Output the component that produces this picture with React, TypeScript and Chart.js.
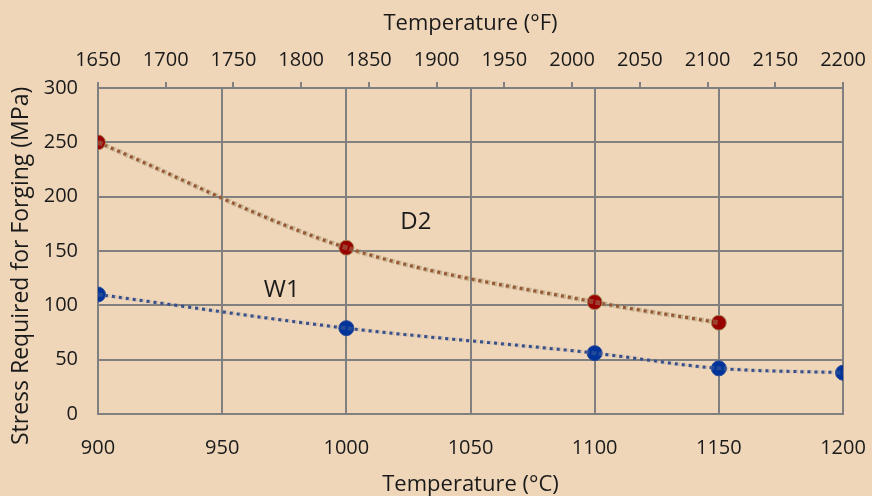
import React, { useEffect, useRef } from "react";
import { Chart, registerables } from "chart.js";

Chart.register(...registerables);

// Data (°C, MPa)
const d2Temps = [900, 1000, 1100, 1150];
const d2Stress = [250, 153, 103, 84];
const w1Temps = [900, 1000, 1100, 1150, 1200];
const w1Stress = [110, 79, 56, 42, 38];

const seriesNames = ["D2", "W1"];
// label anchors in data units (°C, MPa)
const labelTemps = [1028, 974];
const labelStress = [177, 114];

const yTicks = { min: 0, max: 300, step: 50 };
const xTicks = { min: 900, max: 1200, step: 50 };
const x2Ticks = { min: 1650, max: 2200, step: 50 };

const BG = "#EFD6B9";
const GRID = "#808080";
const TEXT = "#1a1a1a";
const FONT = "'Open Sans', 'DejaVu Sans', sans-serif";

export default function App() {
  const ref = useRef<HTMLCanvasElement | null>(null);

  useEffect(() => {
    document.body.style.margin = "0";
    const canvas = ref.current!;
    const toPts = (xs: number[], ys: number[]) => xs.map((x, i) => ({ x, y: ys[i] }));

    const labelPlugin = {
      id: "seriesLabels",
      afterDatasetsDraw(chart: any) {
        const { ctx, scales } = chart;
        ctx.save();
        ctx.fillStyle = TEXT;
        ctx.font = `24px ${FONT}`;
        ctx.textAlign = "center";
        ctx.textBaseline = "middle";
        seriesNames.forEach((n, i) => {
          ctx.fillText(n, scales.x.getPixelForValue(labelTemps[i]), scales.y.getPixelForValue(labelStress[i]));
        });
        ctx.restore();
      },
    };

    const bgPlugin = {
      id: "bg",
      beforeDraw(chart: any) {
        const { ctx, width, height } = chart;
        ctx.save();
        ctx.fillStyle = BG;
        ctx.fillRect(0, 0, width, height);
        ctx.restore();
      },
    };

    const fitH = (h: number) => (s: any) => {
      s.height = h;
      s.paddingLeft = 0;
      s.paddingRight = 0;
    };

    const chart = new Chart(canvas, {
      type: "scatter",
      data: {
        datasets: [
          {
            label: "D2 halo",
            data: toPts(d2Temps, d2Stress),
            showLine: true,
            borderColor: "rgba(160,145,105,0.45)",
            borderWidth: 5,
            borderDash: [5, 2],
            cubicInterpolationMode: "monotone",
            pointRadius: 0,
          },
          {
            label: "D2",
            data: toPts(d2Temps, d2Stress),
            showLine: true,
            borderColor: "#8E2A0C",
            borderWidth: 3,
            borderDash: [3, 4],
            cubicInterpolationMode: "monotone",
            pointRadius: 7.5,
            pointBackgroundColor: "#990000",
            pointBorderColor: "#A89060",
            pointBorderWidth: 1,
          },
          {
            label: "W1 halo",
            data: toPts(w1Temps, w1Stress),
            showLine: true,
            borderColor: "rgba(140,145,150,0.25)",
            borderWidth: 4,
            borderDash: [5, 2],
            cubicInterpolationMode: "monotone",
            pointRadius: 0,
          },
          {
            label: "W1",
            data: toPts(w1Temps, w1Stress),
            showLine: true,
            borderColor: "#1C3A86",
            borderWidth: 3,
            borderDash: [3, 4],
            cubicInterpolationMode: "monotone",
            pointRadius: 7.5,
            pointBackgroundColor: "#003399",
            pointBorderColor: "#2A4C9A",
            pointBorderWidth: 1,
          },
        ],
      },
      options: {
        responsive: false,
        animation: false,
        devicePixelRatio: 1,
        layout: { padding: { left: 0, right: 29, top: 0, bottom: 0 } },
        plugins: { legend: { display: false }, tooltip: { enabled: false } },
        scales: {
          x: {
            type: "linear",
            position: "bottom",
            min: xTicks.min,
            max: xTicks.max,
            afterFit: fitH(82),
            ticks: {
              stepSize: xTicks.step,
              padding: 22,
              color: TEXT,
              font: { family: FONT, size: 20 },
              callback: (v: any) => String(v),
            },
            grid: { color: GRID, lineWidth: 2, drawTicks: false },
            border: { color: GRID, width: 2 },
            title: {
              display: true,
              text: "Temperature (°C)",
              color: TEXT,
              font: { family: FONT, size: 22 },
              padding: { top: 0, bottom: -2 },
            },
          },
          x2: {
            type: "linear",
            position: "top",
            min: x2Ticks.min,
            max: x2Ticks.max,
            afterFit: fitH(88),
            ticks: {
              stepSize: x2Ticks.step,
              padding: 10,
              color: TEXT,
              font: { family: FONT, size: 20 },
              callback: (v: any) => String(v),
            },
            grid: { color: GRID, lineWidth: 2, drawOnChartArea: false, drawTicks: true, tickLength: 6 },
            border: { color: GRID, width: 2 },
            title: {
              display: true,
              text: "Temperature (°F)",
              color: TEXT,
              font: { family: FONT, size: 22 },
              padding: { top: 11, bottom: 0 },
            },
          },
          y: {
            type: "linear",
            position: "left",
            min: yTicks.min,
            max: yTicks.max,
            afterFit: (s: any) => { s.width = 98; },
            ticks: {
              stepSize: yTicks.step,
              padding: 20,
              color: TEXT,
              font: { family: FONT, size: 20 },
              callback: (v: any) => String(v),
            },
            grid: { color: GRID, lineWidth: 2, drawTicks: false },
            border: { color: GRID, width: 2 },
            title: {
              display: true,
              text: "Stress Required for Forging (MPa)     ",
              color: TEXT,
              font: { family: FONT, size: 23 },
              padding: { top: 8, bottom: 0 },
            },
          },
        },
      },
      plugins: [bgPlugin, labelPlugin],
    } as any);

    return () => chart.destroy();
  }, []);

  return (
    <div style={{ position: "absolute", left: 0, top: 0, width: 872, height: 496, background: BG }}>
      <canvas ref={ref} width={872} height={496} style={{ display: "block", width: 872, height: 496 }} />
    </div>
  );
}
